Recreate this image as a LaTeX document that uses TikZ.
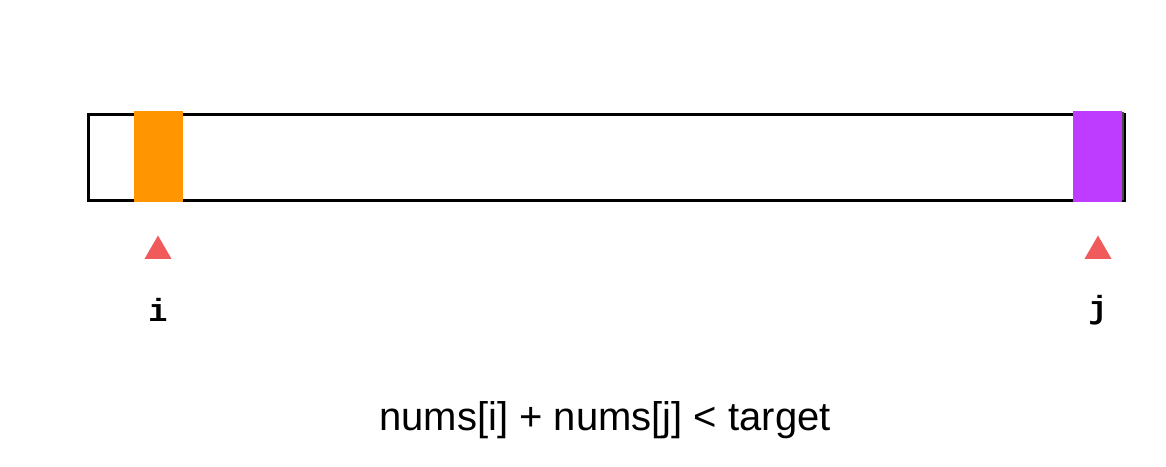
\documentclass[tikz,border=0pt]{standalone}
\usepackage{fontspec}
\setmainfont{Liberation Sans}
\newfontfamily\codefont{Liberation Mono}
\usetikzlibrary{positioning,shapes.geometric}
\definecolor{iorange}{HTML}{FF9500}
\definecolor{jpurple}{HTML}{BD3CFF}
\definecolor{ptrred}{HTML}{F05A5A}

\begin{document}
\begin{tikzpicture}[x=1pt,y=-1pt]
  \useasboundingbox (0,0) rectangle (1166,466);
  % array bar
  \node [draw, line width=3pt, minimum width=1036pt, minimum height=86pt, inner sep=0pt, anchor=north west](bar) at (87,113) {};
  % the two pointer cells
  \node [fill=iorange, minimum width=49pt, minimum height=91pt, inner sep=0pt](ci) at (158.5,156) {};
  \node [fill=jpurple, minimum width=49pt, minimum height=91pt, inner sep=0pt](cj) at (1097.5,156) {};
  \draw [line width=2pt, black!70] (1123,112) -- (1123,200);

  % pointers
  \node [regular polygon, regular polygon sides=3, fill=ptrred, inner sep=0pt, minimum size=31pt](pi) at (158,251) {};
  \node [regular polygon, regular polygon sides=3, fill=ptrred, inner sep=0pt, minimum size=31pt](pj) at (1098,251) {};

  \node [font=\codefont\bfseries\fontsize{32}{38}\selectfont](li) at (158,310) {i};
  \node [font=\codefont\bfseries\fontsize{32}{38}\selectfont](lj) at (1098,310) {j};

  % condition
  \node [font=\fontsize{40}{48}\selectfont](cond) at (605,420) {nums[i] + nums[j] < target};
\end{tikzpicture}
\end{document}
